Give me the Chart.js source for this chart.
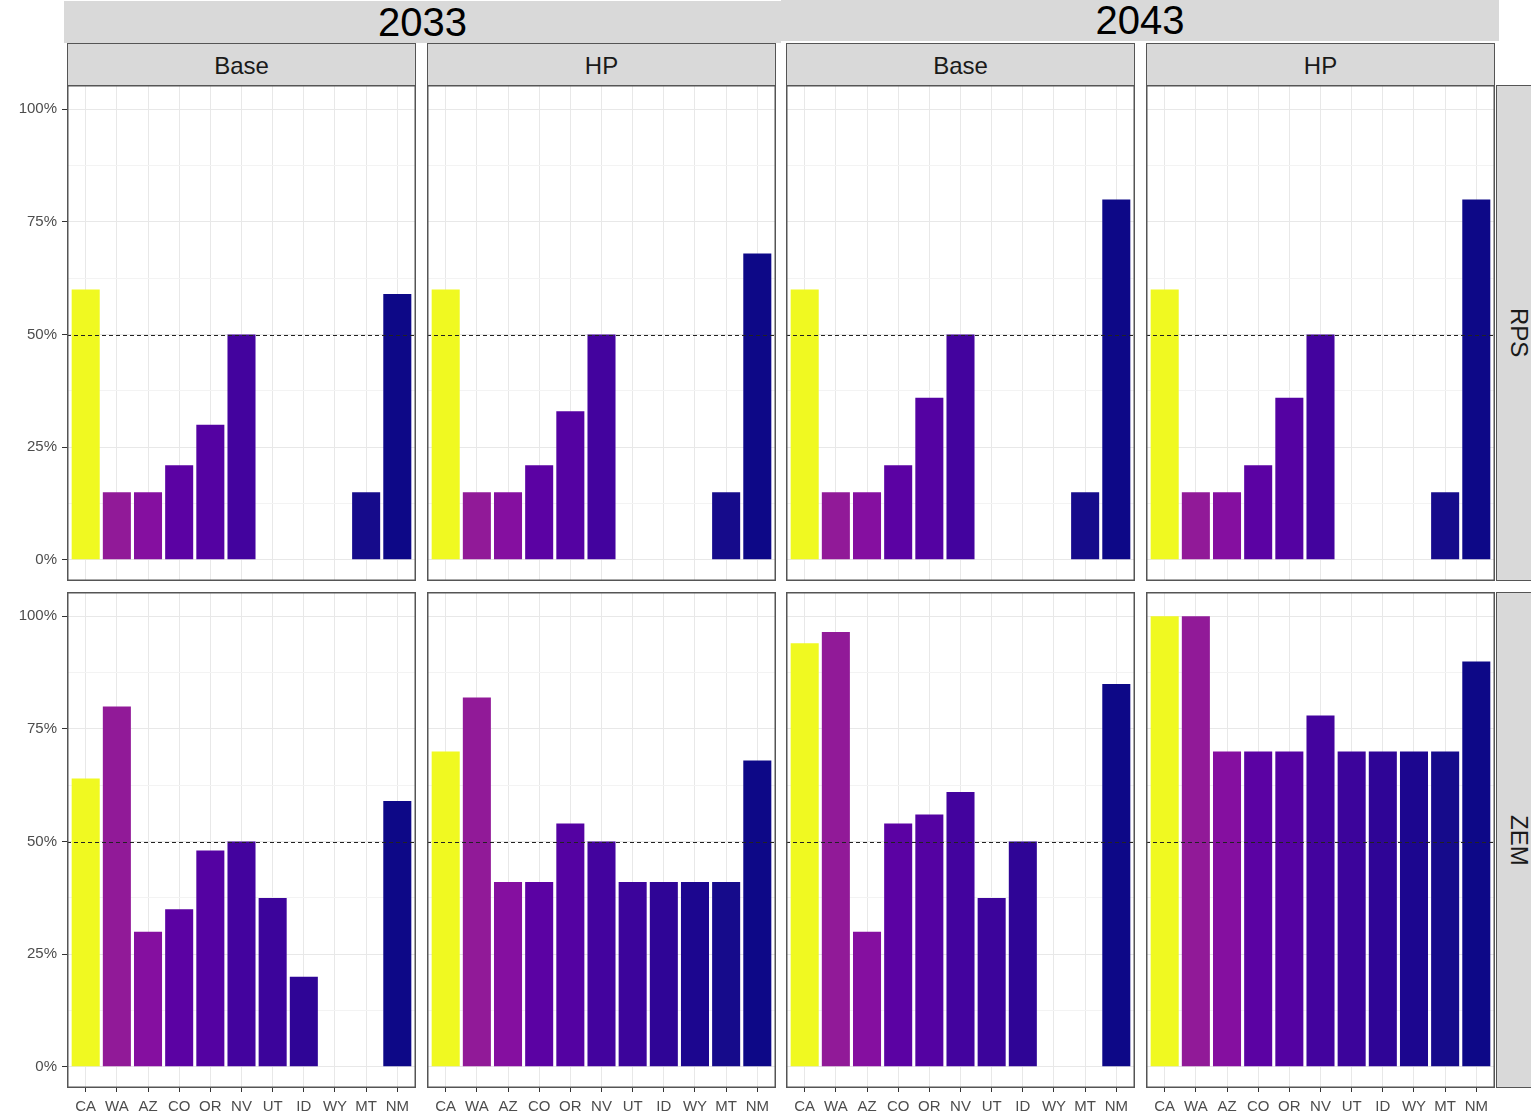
<!DOCTYPE html>
<html>
<head>
<meta charset="utf-8">
<script src="https://cdn.jsdelivr.net/npm/chart.js@4.4.1/dist/chart.umd.min.js"></script>
<style>
  body { margin: 0; background: #fff; width: 1531px; height: 1116px; overflow: hidden; position: relative;
         font-family: "Liberation Sans", Arial, sans-serif; }
  .strip { position: absolute; background: #d9d9d9; box-sizing: border-box; display: flex;
           align-items: center; justify-content: center; color: #1a1a1a; }
  .year { font-size: 40px; color: #000; }
  .scen { font-size: 24px; border: 1.5px solid #555; padding-top: 3px; }
  .pol { font-size: 24px; border: 1.5px solid #555; writing-mode: vertical-rl; }
  canvas { position: absolute; }
</style>
</head>
<body>
<script>
// categories and facet labels
const states = ['CA', 'WA', 'AZ', 'CO', 'OR', 'NV', 'UT', 'ID', 'WY', 'MT', 'NM'];
const stateColors = ['#f0f921', '#911a98', '#850fa0', '#5b02a3', '#5402a2', '#43039e',
                     '#3c049b', '#2f0596', '#1c068f', '#160b8b', '#0d0887'];
const years = ['2033', '2043'];
const scenarios = ['Base', 'HP'];
const policies = ['RPS', 'ZEM'];

// values in percent (null = no bar)
const rps2033Base = [60, 15, 15, 21, 30, 50, null, null, null, 15, 59];
const rps2033HP   = [60, 15, 15, 21, 33, 50, null, null, null, 15, 68];
const rps2043Base = [60, 15, 15, 21, 36, 50, null, null, null, 15, 80];
const rps2043HP   = [60, 15, 15, 21, 36, 50, null, null, null, 15, 80];
const zem2033Base = [64, 80, 30, 35, 48, 50, 37.5, 20, null, null, 59];
const zem2033HP   = [70, 82, 41, 41, 54, 50, 41, 41, 41, 41, 68];
const zem2043Base = [94, 96.5, 30, 54, 56, 61, 37.5, 50, null, null, 85];
const zem2043HP   = [100, 100, 70, 70, 70, 78, 70, 70, 70, 70, 90];

const yTicks = [0, 25, 50, 75, 100];
const yMinorTicks = [12.5, 37.5, 62.5, 87.5];
const targetLine = 50;

const panelData = [
  [rps2033Base, rps2033HP, rps2043Base, rps2043HP],
  [zem2033Base, zem2033HP, zem2043Base, zem2043HP]
];

// layout
const colLeft = [67, 427, 786, 1146];
const rowTop = [85, 592];
const panelW = 349, panelH = 496;
const yAxisW = 67, xAxisH = 28;

function addStrip(cls, text, left, top, width, height) {
  const d = document.createElement('div');
  d.className = 'strip ' + cls;
  d.style.left = left + 'px'; d.style.top = top + 'px';
  d.style.width = width + 'px'; d.style.height = height + 'px';
  d.textContent = text;
  document.body.appendChild(d);
}

addStrip('year', years[0], 64, 1, 717, 42);
addStrip('year', years[1], 781, 0, 718, 41);
for (let c = 0; c < 4; c++) {
  addStrip('scen', scenarios[c % 2], colLeft[c], 43, panelW, 43);
}
for (let r = 0; r < 2; r++) {
  addStrip('pol', policies[r], 1496, rowTop[r], 45, panelH);
}

const panelDecor = {
  id: 'panelDecor',
  afterDatasetsDraw(chart) {
    const ctx = chart.ctx, a = chart.chartArea;
    const yy = chart.scales.y.getPixelForValue(targetLine);
    ctx.save();
    ctx.setLineDash([4, 3]);
    ctx.strokeStyle = '#222';
    ctx.lineWidth = 1;
    ctx.beginPath();
    ctx.moveTo(a.left, Math.round(yy) + 0.5);
    ctx.lineTo(a.right, Math.round(yy) + 0.5);
    ctx.stroke();
    ctx.setLineDash([]);
    ctx.strokeStyle = '#555';
    ctx.lineWidth = 1.5;
    ctx.strokeRect(a.left + 0.75, a.top + 0.75, a.right - a.left - 1.5, a.bottom - a.top - 1.5);
    ctx.restore();
  }
};

for (let r = 0; r < 2; r++) {
  for (let c = 0; c < 4; c++) {
    const showY = c === 0;
    const showX = r === 1;
    const cv = document.createElement('canvas');
    const w = panelW + (showY ? yAxisW : 0);
    const h = panelH + (showX ? xAxisH : 0);
    cv.width = w; cv.height = h;
    cv.style.left = (colLeft[c] - (showY ? yAxisW : 0)) + 'px';
    cv.style.top = rowTop[r] + 'px';
    cv.style.width = w + 'px'; cv.style.height = h + 'px';
    document.body.appendChild(cv);

    const vals = panelData[r][c];
    new Chart(cv, {
      type: 'bar',
      data: {
        datasets: [{
          data: states.map((s, i) => ({ x: i + 1, y: vals[i] })),
          backgroundColor: stateColors,
          borderWidth: 0,
          barPercentage: 0.9,
          categoryPercentage: 1.0
        }]
      },
      options: {
        responsive: false,
        animation: false,
        devicePixelRatio: 1,
        layout: { padding: 0 },
        plugins: { legend: { display: false }, tooltip: { enabled: false } },
        scales: {
          x: {
            type: 'linear',
            offset: false,
            min: 0.4,
            max: 11.6,
            afterBuildTicks: s => { s.ticks = states.map((st, i) => ({ value: i + 1 })); },
            afterFit: s => { s.height = showX ? xAxisH : 0; s.paddingLeft = 0; s.paddingRight = 0; },
            border: { display: false },
            grid: { offset: false, color: '#e8e8e8', lineWidth: 1, drawTicks: showX, tickLength: 4, tickColor: '#333' },
            ticks: {
              display: showX,
              padding: 6,
              maxRotation: 0,
              autoSkip: false,
              color: '#4d4d4d',
              font: { size: 15, family: '"Liberation Sans", Arial, sans-serif' },
              callback: v => states[v - 1]
            }
          },
          y: {
            min: -4.7,
            max: 105.4,
            afterBuildTicks: s => {
              s.ticks = yTicks.concat(yMinorTicks).sort((p, q) => p - q).map(v => ({ value: v }));
            },
            afterFit: s => { s.width = showY ? yAxisW : 0; s.paddingTop = 0; s.paddingBottom = 0; },
            border: { display: false },
            grid: {
              color: t => yTicks.includes(t.tick.value) ? '#e8e8e8' : '#f3f3f3',
              lineWidth: 1,
              drawTicks: showY,
              tickLength: 5,
              tickColor: t => yTicks.includes(t.tick.value) ? '#333' : 'rgba(0,0,0,0)'
            },
            ticks: {
              display: showY,
              padding: 5,
              color: '#4d4d4d',
              font: { size: 15, family: '"Liberation Sans", Arial, sans-serif' },
              callback: v => yTicks.includes(v) ? v + '%' : ''
            }
          }
        }
      },
      plugins: [panelDecor]
    });
  }
}
</script>
</body>
</html>
